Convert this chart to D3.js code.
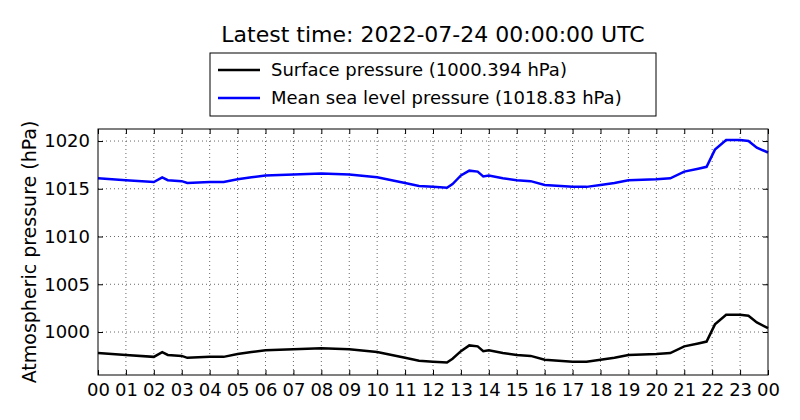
<!DOCTYPE html>
<html><head><meta charset="utf-8">
<script src="https://d3js.org/d3.v7.min.js"></script>
<style>body{margin:0;background:#fff}text{font-family:"DejaVu Sans",sans-serif}</style>
</head><body><svg id="c" width="800" height="420"></svg>
<script>
// hours since 2022-07-23 00:00 UTC
const hours = [0,1,2,2.3,2.5,3,3.2,4,4.5,5,5.5,6,7,8,9,10,11,11.5,12,12.5,12.7,13,13.3,13.6,13.8,14,14.5,15,15.5,16,17,17.5,18,18.5,19,20,20.5,21,21.5,21.8,22.1,22.5,23,23.3,23.6,24];
const mslp = [1016.1,1015.9,1015.7,1016.2,1015.9,1015.8,1015.6,1015.7,1015.7,1016.0,1016.2,1016.4,1016.5,1016.6,1016.5,1016.2,1015.6,1015.3,1015.2,1015.1,1015.5,1016.4,1016.9,1016.8,1016.3,1016.4,1016.1,1015.9,1015.8,1015.4,1015.2,1015.2,1015.4,1015.6,1015.9,1016.0,1016.1,1016.8,1017.1,1017.3,1019.1,1020.1,1020.1,1020.0,1019.3,1018.8];
const surf = [997.8,997.6,997.4,997.9,997.6,997.5,997.3,997.4,997.4,997.7,997.9,998.1,998.2,998.3,998.2,997.9,997.3,997.0,996.9,996.8,997.2,998.0,998.6,998.5,998.0,998.1,997.8,997.6,997.5,997.1,996.9,996.9,997.1,997.3,997.6,997.7,997.8,998.5,998.8,999.0,1000.8,1001.8,1001.8,1001.7,1001.0,1000.4];
const xTicks = d3.range(0,25);
const yTicks = [1000,1005,1010,1015,1020];

const svg = d3.select("#c");
const L=98,R=768,T=129,B=375;
const x = d3.scaleLinear().domain([0,24]).range([L,R]);
const y = d3.scaleLinear().domain([995.5,1021.26]).range([B,T]);

const g = svg.append("g");
// grid
g.selectAll(".gx").data(xTicks.slice(1,-1)).enter().append("line")
  .attr("x1",d=>x(d)).attr("x2",d=>x(d)).attr("y1",T).attr("y2",B)
  .attr("stroke","#000").attr("stroke-width",0.6).attr("stroke-dasharray","1,3");
g.selectAll(".gy").data(yTicks).enter().append("line")
  .attr("x1",L).attr("x2",R).attr("y1",d=>y(d)).attr("y2",d=>y(d))
  .attr("stroke","#000").attr("stroke-width",0.6).attr("stroke-dasharray","1,3");

const line = d3.line().x((d,i)=>x(hours[i])).y(d=>y(d));
g.append("path").datum(surf).attr("d",line).attr("fill","none").attr("stroke","#000").attr("stroke-width",2.5);
g.append("path").datum(mslp).attr("d",line).attr("fill","none").attr("stroke","#00f").attr("stroke-width",2.5);

// axes (ticks inward)
const xa = svg.append("g").attr("transform",`translate(0,${B})`)
  .call(d3.axisBottom(x).tickValues(xTicks).tickFormat(d=>String(d%24).padStart(2,"0")).tickSizeInner(-5).tickSizeOuter(0).tickPadding(8));
const xt = svg.append("g").attr("transform",`translate(0,${T})`)
  .call(d3.axisTop(x).tickValues(xTicks).tickFormat("").tickSizeInner(-5).tickSizeOuter(0));
const ya = svg.append("g").attr("transform",`translate(${L},0)`)
  .call(d3.axisLeft(y).tickValues(yTicks).tickFormat(d3.format("d")).tickSizeInner(-5).tickSizeOuter(0).tickPadding(8));
const yr = svg.append("g").attr("transform",`translate(${R},0)`)
  .call(d3.axisRight(y).tickValues(yTicks).tickFormat("").tickSizeInner(-5).tickSizeOuter(0));
[xa,xt,ya,yr].forEach(a=>{a.select(".domain").remove();a.selectAll("text").attr("font-size",18).attr("fill","#000").style("font-family","DejaVu Sans");});
svg.append("rect").attr("x",L).attr("y",T).attr("width",R-L).attr("height",B-T).attr("fill","none").attr("stroke","#000");

svg.append("text").attr("x",433).attr("y",42).attr("text-anchor","middle").attr("font-size",22).text("Latest time: 2022-07-24 00:00:00 UTC");
svg.append("text").attr("transform","translate(36,252) rotate(-90)").attr("text-anchor","middle").attr("font-size",19).text("Atmospheric pressure (hPa)");

// legend
const lg = svg.append("g");
lg.append("rect").attr("x",210).attr("y",53).attr("width",446).attr("height",63).attr("fill","#fff").attr("stroke","#000");
[["Surface pressure (1000.394 hPa)","#000",70],["Mean sea level pressure (1018.83 hPa)","#00f",98]].forEach(([t,c,yy])=>{
  lg.append("line").attr("x1",218).attr("x2",260).attr("y1",yy).attr("y2",yy).attr("stroke",c).attr("stroke-width",2.5);
  lg.append("text").attr("x",271).attr("y",yy+6).attr("font-size",18).text(t);
});
</script></body></html>
